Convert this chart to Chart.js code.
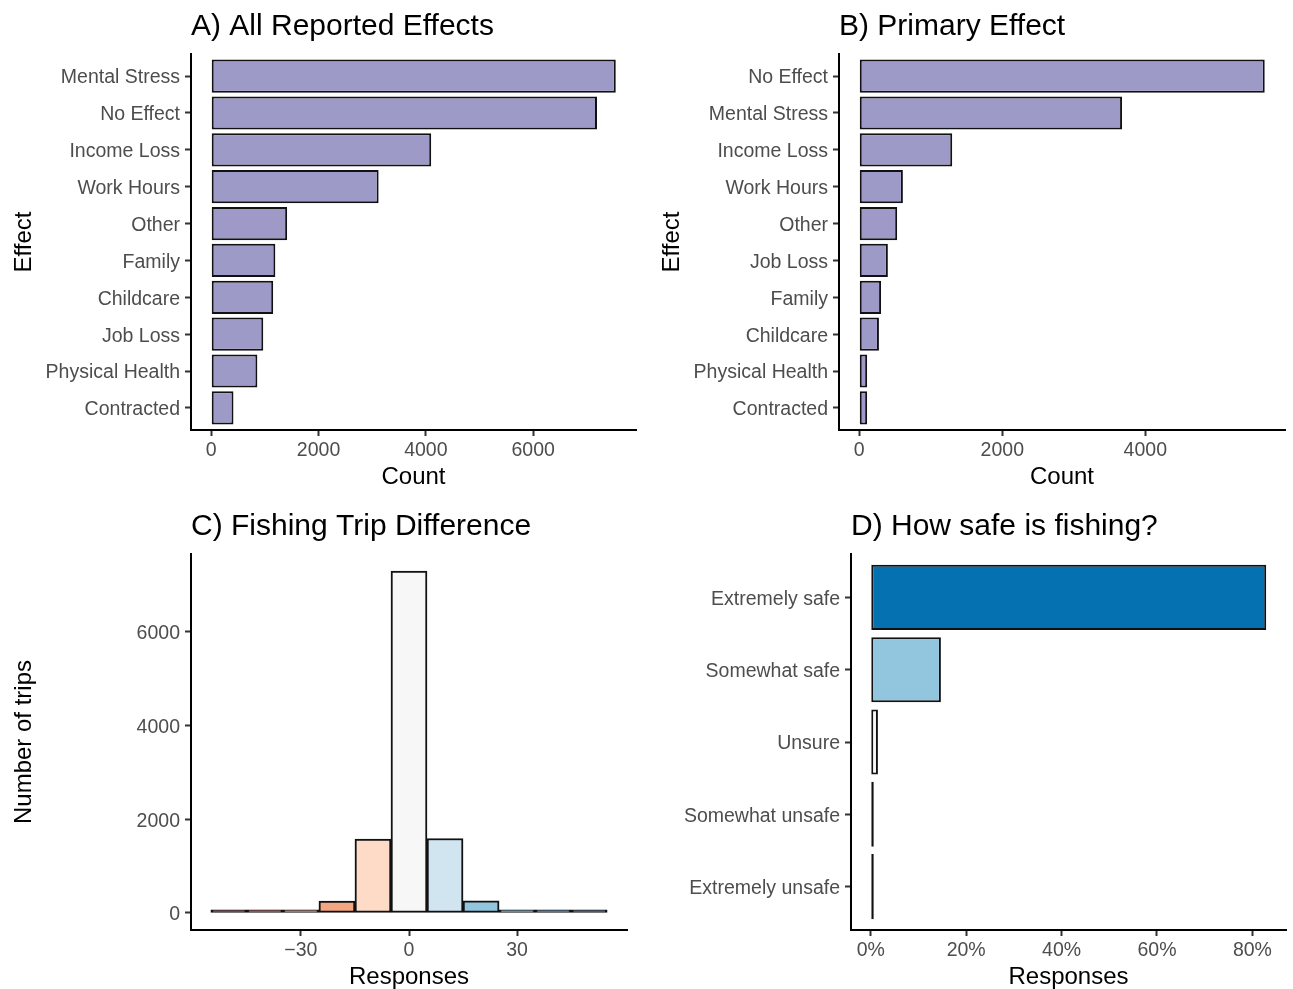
<!DOCTYPE html>
<html>
<head>
<meta charset="utf-8">
<script src="https://cdn.jsdelivr.net/npm/chart.js@4/dist/chart.umd.min.js"></script>
<style>
  html, body { margin: 0; padding: 0; background: #fff; }
  #wrap { position: relative; width: 1293px; height: 989px; }
  .panel { position: absolute; }
</style>
</head>
<body>
<div id="wrap">
  <div class="panel" style="left:0;top:0"><canvas id="cA" width="646" height="494"></canvas></div>
  <div class="panel" style="left:646px;top:0"><canvas id="cB" width="647" height="494"></canvas></div>
  <div class="panel" style="left:0;top:494px"><canvas id="cC" width="646" height="495"></canvas></div>
  <div class="panel" style="left:646px;top:494px"><canvas id="cD" width="647" height="495"></canvas></div>
</div>
<script>
// ---- data ----
const effectsAll = ["Mental Stress", "No Effect", "Income Loss", "Work Hours", "Other",
                    "Family", "Childcare", "Job Loss", "Physical Health", "Contracted"];
const countsAll = [7540, 7190, 4100, 3120, 1415, 1195, 1155, 970, 860, 415];

const effectsPrimary = ["No Effect", "Mental Stress", "Income Loss", "Work Hours", "Other",
                        "Job Loss", "Family", "Childcare", "Physical Health", "Contracted"];
const countsPrimary = [5670, 3675, 1300, 610, 530, 400, 305, 275, 110, 110];

const tripBins = [-50, -40, -30, -20, -10, 0, 10, 20, 30, 40, 50];
const tripCounts = [5, 35, 60, 250, 1575, 7300, 1590, 260, 50, 25, 5];
const tripColors = ["#67001f", "#b2182b", "#d6604d", "#f4a582", "#fddbc7", "#f7f7f7",
                    "#d1e5f0", "#92c5de", "#4393c3", "#2166ac", "#053061"];

const safetyLevels = ["Extremely safe", "Somewhat safe", "Unsure", "Somewhat unsafe", "Extremely unsafe"];
const safetyPercent = [82.9, 14.7, 1.5, 0.6, 0.3];
const safetyColors = ["#0571b0", "#92c5de", "#f7f7f7", "#f4a582", "#ca0020"];

const countTicksA = [0, 2000, 4000, 6000];
const countTicksB = [0, 2000, 4000];
const tripTicksX = [-30, 0, 30];
const tripTicksY = [0, 2000, 4000, 6000];
const percentTicks = [0, 20, 40, 60, 80];

// ---- shared styling ----
const FONT = "'Liberation Sans', Arial, Helvetica, sans-serif";
const TICK_COLOR = "#4d4d4d";
Chart.defaults.font.family = FONT;
Chart.defaults.animation = false;

// panel heading, left-aligned with the plotting area
const panelTitle = {
  id: 'panelTitle',
  afterDraw(chart, args, opts) {
    const { ctx, chartArea } = chart;
    ctx.save();
    ctx.font = `30px ${FONT}`;
    ctx.fillStyle = '#000';
    ctx.textAlign = 'left';
    ctx.textBaseline = 'middle';
    ctx.fillText(opts.text, chartArea.left, opts.y);
    ctx.restore();
  }
};

function fixedTicks(values) {
  return s => { s.ticks = values.map(v => ({ value: v })); };
}

// numbers with a typographic minus sign
const signed = v => String(v).replace('-', '\u2212');

function axisBase() {
  return {
    offset: false,
    grid: { offset: false, drawOnChartArea: false, drawTicks: true, tickLength: 6, tickWidth: 2,
            tickColor: '#333', color: '#333' },
    border: { display: true, color: '#000', width: 2 }
  };
}

function valueAxis(min, max, ticks, height, titleText, fmt, titleBottom) {
  return Object.assign(axisBase(), {
    type: 'linear', min, max,
    afterBuildTicks: fixedTicks(ticks),
    afterFit: s => { s.height = height; },
    ticks: { color: TICK_COLOR, font: { size: 19.5 }, padding: 3, autoSkip: false, maxRotation: 0,
             callback: v => fmt ? fmt(v) : signed(v) },
    title: { display: true, text: titleText, color: '#000', font: { size: 24 },
             padding: { top: 0, bottom: titleBottom === undefined ? 2 : titleBottom } }
  });
}

function indexAxis(labels, width, titleText, titlePad) {
  const n = labels.length;
  return Object.assign(axisBase(), {
    type: 'linear', min: -0.6, max: n - 1 + 0.6, reverse: true,
    afterBuildTicks: fixedTicks(labels.map((_, i) => i)),
    afterFit: s => { s.width = width; },
    ticks: { color: TICK_COLOR, font: { size: 19.5 }, padding: 5, autoSkip: false, labelOffset: 2,
             callback: v => labels[Math.round(v)] },
    title: { display: !!titleText, text: titleText || '', color: '#000', font: { size: 24 },
             padding: { top: titlePad || 0, bottom: 0 } }
  });
}

function hbarChart(id, labels, values, colors, opts) {
  const maxV = Math.max(...values);
  return new Chart(document.getElementById(id), {
    type: 'bar',
    data: {
      datasets: [{
        data: values.map((v, i) => ({ x: v, y: i })),
        backgroundColor: colors,
        borderColor: '#111',
        borderWidth: 2,
        borderSkipped: false,
        barPercentage: 0.9,
        categoryPercentage: 1,
        minBarLength: opts.minBar || 0
      }]
    },
    options: {
      indexAxis: 'y',
      responsive: false,
      devicePixelRatio: 1,
      layout: { padding: opts.padding },
      plugins: { legend: { display: false }, tooltip: { enabled: false },
                 panelTitle: { text: opts.title, y: opts.titleY } },
      scales: {
        x: valueAxis(-0.05 * maxV, 1.05 * maxV, opts.xTicks, opts.xHeight, opts.xTitle, opts.fmt, opts.xTitleBottom),
        y: indexAxis(labels, opts.yWidth, opts.yTitle, opts.yTitlePad)
      }
    },
    plugins: [panelTitle]
  });
}

// A) all reported effects
hbarChart('cA', effectsAll, countsAll, '#9e9ac8', {
  title: 'A) All Reported Effects', titleY: 27,
  padding: { top: 54, right: 10, left: 0, bottom: 0 },
  xTicks: countTicksA, xHeight: 64, xTitle: 'Count',
  yWidth: 191, yTitle: 'Effect', yTitlePad: 10
});

// B) primary effect
hbarChart('cB', effectsPrimary, countsPrimary, '#9e9ac8', {
  title: 'B) Primary Effect', titleY: 27,
  padding: { top: 54, right: 8, left: 0, bottom: 0 },
  xTicks: countTicksB, xHeight: 64, xTitle: 'Count',
  yWidth: 193, yTitle: 'Effect', yTitlePad: 12
});

// C) fishing trip difference histogram
(function () {
  const maxY = Math.max(...tripCounts);
  const halfBin = 5;
  const lo = tripBins[0] - halfBin, hi = tripBins[tripBins.length - 1] + halfBin;
  const pad = 0.05 * (hi - lo);
  const x = valueAxis(lo - pad, hi + pad, tripTicksX, 59, 'Responses', null, -3);
  const y = Object.assign(axisBase(), {
    type: 'linear', min: -0.05 * maxY, max: 1.05 * maxY,
    afterBuildTicks: fixedTicks(tripTicksY),
    afterFit: s => { s.width = 191; },
    ticks: { color: TICK_COLOR, font: { size: 19.5 }, padding: 5, autoSkip: false, labelOffset: 2,
             callback: v => String(v) },
    title: { display: true, text: 'Number of trips', color: '#000', font: { size: 24 }, padding: { top: 10, bottom: 0 } }
  });
  new Chart(document.getElementById('cC'), {
    type: 'bar',
    data: {
      datasets: [{
        data: tripBins.map((b, i) => ({ x: b, y: tripCounts[i] })),
        backgroundColor: tripColors,
        borderColor: '#111',
        borderWidth: 2,
        borderSkipped: false,
        barPercentage: 1,
        categoryPercentage: 1,
        minBarLength: 3
      }]
    },
    options: {
      responsive: false,
      devicePixelRatio: 1,
      layout: { padding: { top: 60, right: 19, left: 0, bottom: 0 } },
      plugins: { legend: { display: false }, tooltip: { enabled: false },
                 panelTitle: { text: 'C) Fishing Trip Difference', y: 33 } },
      scales: { x, y }
    },
    plugins: [panelTitle]
  });
})();

// D) perceived safety
hbarChart('cD', safetyLevels, safetyPercent, safetyColors, {
  title: 'D) How safe is fishing?', titleY: 33,
  padding: { top: 60, right: 7, left: 0, bottom: 0 },
  xTicks: percentTicks, xHeight: 59, xTitle: 'Responses', fmt: v => v + '%', xTitleBottom: -3,
  yWidth: 205, minBar: 3
});
</script>
</body>
</html>
